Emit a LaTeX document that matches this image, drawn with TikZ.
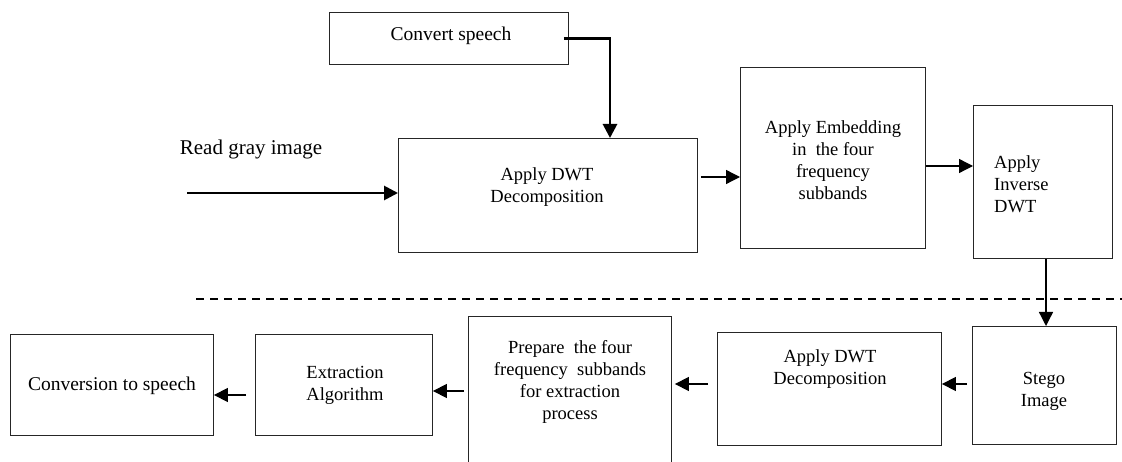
\documentclass[tikz,border=0pt]{standalone}
\usepackage{fontspec}
\setmainfont{Liberation Serif}
\usetikzlibrary{arrows.meta}
\begin{document}
\begin{tikzpicture}[x=1pt,y=-1pt,
  box/.style={draw=black!85,line width=0.9pt,rectangle,inner sep=0pt,anchor=north west},
  txt/.style={align=center,inner sep=0pt,font=\fontsize{18.5}{22}\selectfont},
  arr/.style={line width=1.3pt,-{Triangle[length=14pt,width=14pt]}},
  thickarr/.style={line width=2.8pt,-{Triangle[length=14pt,width=14pt]}}]
\useasboundingbox (0,0) rectangle (1122,462);
\clip (0,0) rectangle (1122,462);

% embedding side
\node[box,minimum width=239pt,minimum height=52pt] (conv) at (329,12) {};
\node[txt,font=\fontsize{19.5}{22}\selectfont] at (451,36) {Convert speech};

\node[box,minimum width=299pt,minimum height=114pt] (dwt1) at (398,138) {};
\node[txt] at (547,187) {Apply DWT\\Decomposition};

\node[box,minimum width=185pt,minimum height=181pt] (emb) at (740,67) {};
\node[txt] at (833,160) {Apply Embedding\\in\ \ the four\\frequency\\subbands};

\node[box,minimum width=139pt,minimum height=153pt] (inv) at (973,105) {};
\node[txt,align=left,anchor=west] at (994,184) {Apply\\Inverse\\DWT};

\node[txt,font=\fontsize{21}{24}\selectfont] (read) at (251,149) {Read gray image};
\coordinate (in) at (187,193);

% separator between embedding and extraction
\draw[line width=2pt,dash pattern=on 8pt off 6pt] (196,299) -- (1122,299);

% extraction side
\node[box,minimum width=144pt,minimum height=118pt] (stego) at (972,326) {};
\node[txt] at (1044,391) {Stego\\Image};

\node[box,minimum width=224pt,minimum height=113pt] (dwt2) at (717,332) {};
\node[txt] at (830,369) {Apply DWT\\Decomposition};

\node[box,minimum width=203pt,minimum height=160pt] (prep) at (468,316) {};
\node[txt] at (570,382) {Prepare\ \ the four\\frequency\ \ subbands\\for extraction\\process};

\node[box,minimum width=177pt,minimum height=101pt] (extr) at (255,334) {};
\node[txt] at (345,385) {Extraction\\Algorithm};

\node[box,minimum width=203pt,minimum height=101pt] (convsp) at (10,334) {};
\node[txt,font=\fontsize{19.5}{22}\selectfont] at (112,386) {Conversion to speech};

% connectors
\draw[thickarr] ([xshift=-5pt]conv.east) -| (dwt1.north -| 610,0);
\draw[thickarr] (in) -- (dwt1.west |- in);
\draw[arr,shorten <=3pt] (dwt1.east |- 0,177) -- (emb.west |- 0,177);
\draw[arr] (emb.east |- 0,166) -- (inv.west |- 0,166);
\draw[arr] (inv.south -| 1046,0) -- (stego.north -| 1046,0);
\draw[arr,shorten <=5pt] (stego.west |- 0,384) -- (dwt2.east |- 0,384);
\draw[arr,shorten <=9pt,shorten >=3pt] (dwt2.west |- 0,384) -- (prep.east |- 0,384);
\draw[arr,shorten <=4pt] (prep.west |- 0,391) -- (extr.east |- 0,391);
\draw[arr,shorten <=9pt] (extr.west |- 0,395) -- (convsp.east |- 0,395);
\end{tikzpicture}
\end{document}
